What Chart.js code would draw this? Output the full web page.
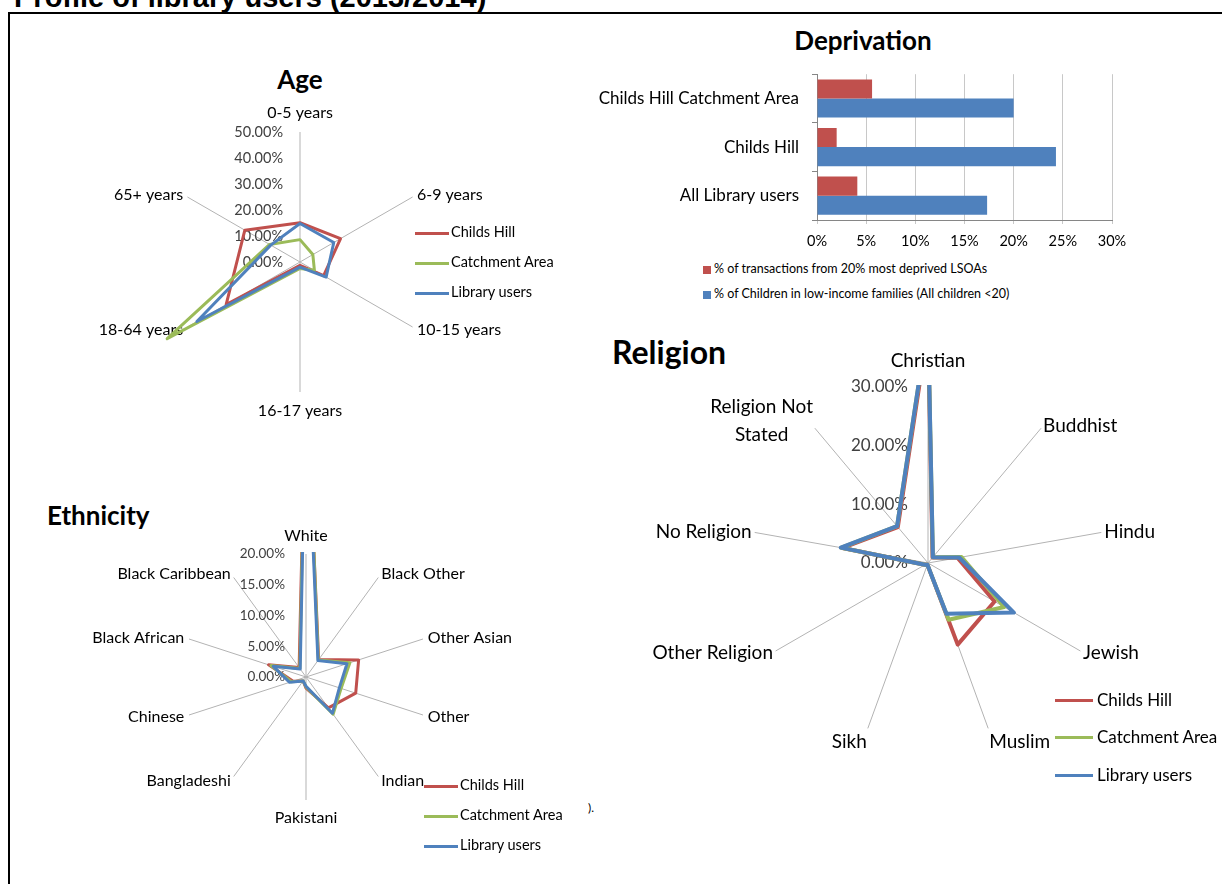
<!DOCTYPE html>
<html>
<head>
<meta charset="utf-8">
<script src="https://cdn.jsdelivr.net/npm/chart.js@4.4.0/dist/chart.umd.min.js"></script>
<style>
html, body { margin: 0; padding: 0; background: #fff; }
body { width: 1222px; height: 884px; position: relative; overflow: hidden; font-family: Lato, sans-serif; color: #000; }
.abs { position: absolute; white-space: nowrap; }
#frame { position: absolute; left: 8px; top: 12px; width: 1300px; height: 1000px; border: 2px solid #000; box-sizing: border-box; }
#pageTitle { left: 14px; top: -17px; font: bold 29px/29px "Liberation Sans", Arial, sans-serif; }
.ttl { font-weight: bold; line-height: 1; }
canvas { position: absolute; }
.leg { position: absolute; white-space: nowrap; line-height: 1; }
</style>
</head>
<body>
<div id="frame"></div>
<div id="pageTitle" class="abs">Profile of library users (2013/2014)</div>

<div class="abs ttl" style="left:200px;width:200px;text-align:center;top:66px;font-size:26px;">Age</div>
<div class="abs ttl" style="left:763px;width:200px;text-align:center;top:27px;font-size:26px;">Deprivation</div>
<div class="abs ttl" style="left:47px;top:502px;font-size:26px;">Ethnicity</div>
<div class="abs ttl" style="left:612px;top:336px;font-size:32px;">Religion</div>
<div class="abs" style="left:588px;top:800px;font-size:12px;">).</div>

<canvas id="ageChart" width="560" height="380" style="left:20px;top:60px;"></canvas>
<canvas id="depChart" width="560" height="209" style="left:580px;top:51px;"></canvas>
<canvas id="ethChart" width="570" height="414" style="left:20px;top:470px;"></canvas>
<canvas id="relChart" width="622" height="554" style="left:600px;top:330px;"></canvas>
<div id="legends"></div>

<script>
// series shared by the three radar charts
const seriesNames = ['Childs Hill', 'Catchment Area', 'Library users'];
const seriesColors = ['#C0504D', '#9BBB59', '#4F81BD'];

// Age
const ageLabels = ['0-5 years', '6-9 years', '10-15 years', '16-17 years', '18-64 years', '65+ years'];
const ageChildsHill = [15.1, 18.0, 10.5, 1.3, 32.8, 24.5];
const ageCatchment = [8.6, 5.7, 6.4, 2.5, 59.0, 13.5];
const ageLibrary = [14.8, 15.0, 11.6, 2.0, 45.8, 13.0];
const ageTicks = ['0.00%', '10.00%', '20.00%', '30.00%', '40.00%', '50.00%'];

// Ethnicity
const ethLabels = ['White', 'Black Other', 'Other Asian', 'Other', 'Indian', 'Pakistani', 'Bangladeshi', 'Chinese', 'Black African', 'Black Caribbean'];
const ethChildsHill = [50.0, 3.5, 9.0, 8.5, 6.2, 1.8, 0.8, 2.2, 6.4, 1.9];
const ethCatchment = [52.0, 3.4, 7.5, 6.0, 7.5, 1.6, 0.8, 2.5, 6.0, 1.7];
const ethLibrary = [48.0, 3.3, 7.0, 5.7, 7.3, 1.5, 0.8, 2.8, 5.6, 1.6];
const ethTicks = ['0.00%', '5.00%', '10.00%', '15.00%', '20.00%'];

// Religion
const relLabels = ['Christian', 'Buddhist', 'Hindu', 'Jewish', 'Muslim', 'Sikh', 'Other Religion', 'No Religion', ['Religion Not', 'Stated']];
const relChildsHill = [40.0, 1.2, 5.1, 13.1, 14.8, 0.3, 0.6, 14.8, 8.0];
const relCatchment = [41.0, 1.3, 5.8, 15.0, 10.3, 0.3, 0.6, 15.0, 8.2];
const relLibrary = [41.0, 1.3, 5.4, 16.9, 9.2, 0.3, 0.6, 15.1, 8.2];
const relTicks = ['0.00%', '10.00%', '20.00%', '30.00%'];

// Deprivation
const depCategories = ['Childs Hill Catchment Area', 'Childs Hill', 'All Library users'];
const depSeries = ['% of transactions from 20% most deprived LSOAs', '% of Children in low-income families (All children <20)'];
const depTransactions = [5.6, 2.0, 4.1];
const depChildren = [20.0, 24.3, 17.3];
const depTicks = ['0%', '5%', '10%', '15%', '20%', '25%', '30%'];

// draws the Excel style tick labels and spoke labels, then clips the lines at the top ring
const radarText = {
  id: 'radarText',
  beforeDatasetsDraw(chart, args, o) {
    const s = chart.scales.r;
    const ctx = chart.ctx;
    ctx.save();
    ctx.font = o.tickSize + 'px Lato';
    ctx.fillStyle = '#404040';
    ctx.textAlign = 'right';
    ctx.textBaseline = 'middle';
    s.ticks.forEach(t => {
      ctx.fillText(t.label, s.xCenter - o.tickGap, s.yCenter - s.getDistanceFromCenterForValue(t.value));
    });
    ctx.font = o.labelSize + 'px Lato';
    ctx.fillStyle = '#000';
    ctx.textAlign = 'center';
    chart.data.labels.forEach((lab, i) => {
      const a = s.getIndexAngle(i);
      const sin = Math.sin(a), cos = Math.cos(a);
      const vertical = Math.abs(sin) < 0.01;
      const p = s.getPointPosition(i, s.drawingArea + (vertical ? o.padV : o.padS));
      const lines = Array.isArray(lab) ? lab : [lab];
      const h = lines.length * o.lineH;
      const w = Math.max(...lines.map(l => ctx.measureText(l).width));
      let xc = p.x;
      if (!vertical) xc = sin > 0 ? p.x + w / 2 : p.x - w / 2;
      let top = p.y - h / 2 - (lines.length > 1 ? 5 : 0);
      if (cos > 0.87) top = p.y - h;
      else if (cos < -0.87) top = vertical ? p.y : p.y - 3;
      lines.forEach((l, j) => ctx.fillText(l, xc, top + o.lineH * (j + 0.5)));
    });
    ctx.restore();
    if (o.clip) {
      ctx.save();
      ctx.beginPath();
      ctx.rect(0, s.yCenter - s.drawingArea - 2, chart.width, chart.height);
      ctx.clip();
    }
  },
  afterDatasetsDraw(chart, args, o) {
    if (o.clip) chart.ctx.restore();
  }
};

function makeRadar(id, box, cx, cy, R, labels, series, max, step, tickLabels, lineWidth, textOpts) {
  new Chart(document.getElementById(id), {
    type: 'radar',
    data: {
      labels: labels,
      datasets: series.map((d, i) => ({
        label: seriesNames[i],
        data: d,
        borderColor: seriesColors[i],
        borderWidth: lineWidth,
        borderJoinStyle: 'round',
        pointRadius: 0,
        fill: false,
        order: 3 - i
      }))
    },
    options: {
      responsive: false,
      animation: false,
      layout: {
        padding: {
          left: cx - R - box.x,
          top: cy - R - box.y,
          right: box.x + box.w - (cx + R),
          bottom: box.y + box.h - (cy + R)
        }
      },
      plugins: { legend: { display: false }, tooltip: { enabled: false }, radarText: textOpts },
      scales: {
        r: {
          min: 0,
          max: max,
          ticks: { display: false, stepSize: step, callback: (v, i) => tickLabels[i] },
          grid: { display: false },
          angleLines: { color: '#b3b3b3', lineWidth: 1 },
          pointLabels: { display: false }
        }
      }
    },
    plugins: [radarText]
  });
}

makeRadar('ageChart', { x: 20, y: 60, w: 560, h: 380 }, 300, 262, 130,
  ageLabels, [ageChildsHill, ageCatchment, ageLibrary], 50, 10, ageTicks, 3,
  { tickSize: 14.5, tickGap: 17, labelSize: 16, lineH: 18, padV: 10, padS: 5, clip: false });

makeRadar('ethChart', { x: 20, y: 470, w: 570, h: 414 }, 306, 677, 123,
  ethLabels, [ethChildsHill, ethCatchment, ethLibrary], 20, 5, ethTicks, 3,
  { tickSize: 13.5, tickGap: 21, labelSize: 16, lineH: 18, padV: 9, padS: 5, clip: true });

makeRadar('relChart', { x: 600, y: 330, w: 622, h: 554 }, 928, 563, 176,
  relLabels, [relChildsHill, relCatchment, relLibrary], 30, 10, relTicks, 4,
  { tickSize: 17, tickGap: 20, labelSize: 19, lineH: 28, padV: 12, padS: 3, clip: true });

new Chart(document.getElementById('depChart'), {
  type: 'bar',
  data: {
    labels: depCategories,
    datasets: [
      { label: depSeries[0], data: depTransactions, backgroundColor: '#C0504D' },
      { label: depSeries[1], data: depChildren, backgroundColor: '#4F81BD' }
    ]
  },
  options: {
    indexAxis: 'y',
    responsive: false,
    animation: false,
    layout: { padding: { top: 0, right: 28, left: 0, bottom: 0 } },
    datasets: { bar: { categoryPercentage: 0.785, barPercentage: 1 } },
    plugins: { legend: { display: false }, tooltip: { enabled: false } },
    scales: {
      x: {
        min: 0, max: 30,
        ticks: { stepSize: 5, callback: (v, i) => depTicks[i], color: '#000', font: { family: 'Lato', size: 14.5 }, padding: 9 },
        grid: { color: '#c8c8c8', tickLength: 4 },
        border: { color: '#868686' },
        afterFit: s => { s.height = 40; }
      },
      y: {
        ticks: { color: '#000', font: { family: 'Lato', size: 17 }, padding: 13 },
        grid: { drawOnChartArea: false, tickLength: 5, color: '#868686', offset: true },
        border: { color: '#868686' },
        afterFit: s => { s.width = 237; }
      }
    }
  }
});

// legends
const legendBox = document.getElementById('legends');
function lineLegend(lineX, lineW, textX, y0, gap, size) {
  seriesNames.forEach((name, i) => {
    const y = y0 + i * gap;
    const ln = document.createElement('div');
    ln.className = 'leg';
    ln.style.cssText = `left:${lineX}px;top:${y - 1.5}px;width:${lineW}px;height:3px;background:${seriesColors[i]};`;
    legendBox.appendChild(ln);
    const tx = document.createElement('div');
    tx.className = 'leg';
    tx.style.cssText = `left:${textX}px;top:${y - size * 0.55}px;font-size:${size}px;`;
    tx.textContent = name;
    legendBox.appendChild(tx);
  });
}
lineLegend(415, 34, 451, 233, 30, 14.5);
lineLegend(424, 34, 460, 786, 30, 14.5);
lineLegend(1055, 38, 1097, 700, 37.5, 17);

const depColors = ['#C0504D', '#4F81BD'];
depSeries.forEach((name, i) => {
  const y = 270 + i * 25;
  const sq = document.createElement('div');
  sq.className = 'leg';
  sq.style.cssText = `left:703px;top:${y - 4}px;width:8px;height:8px;background:${depColors[i]};`;
  legendBox.appendChild(sq);
  const tx = document.createElement('div');
  tx.className = 'leg';
  tx.style.cssText = `left:714px;top:${y - 7}px;font-size:12.5px;`;
  tx.textContent = name;
  legendBox.appendChild(tx);
});
</script>
</body>
</html>
